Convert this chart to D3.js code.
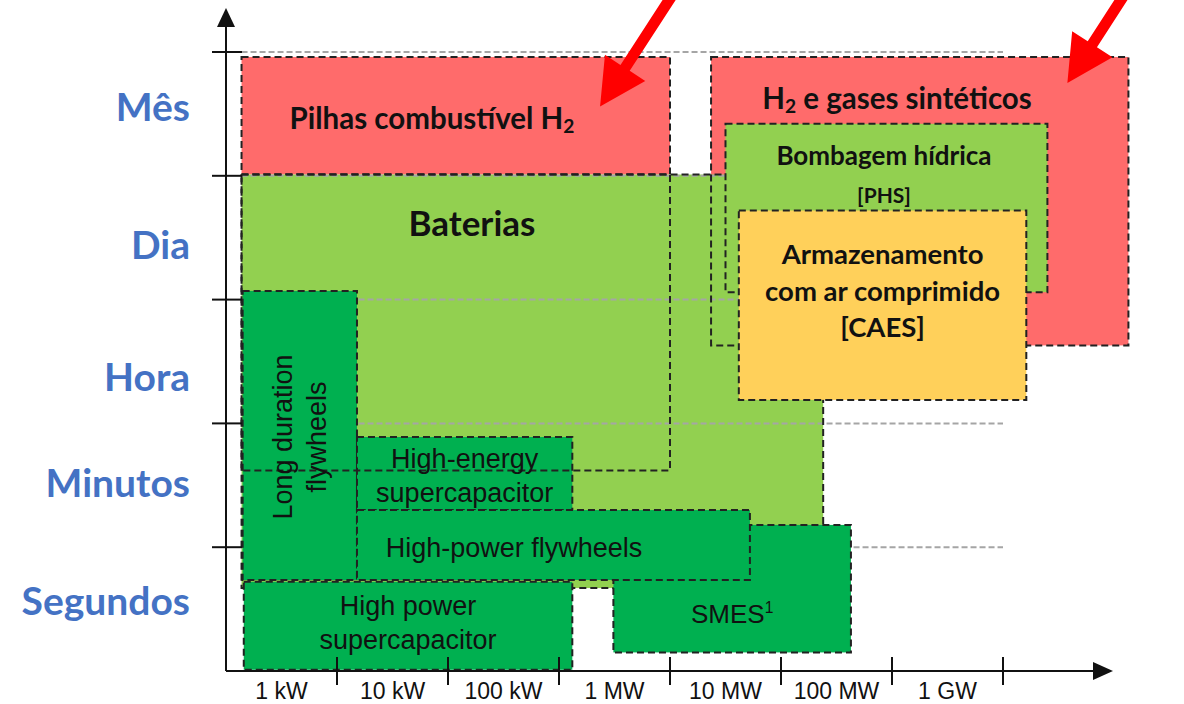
<!doctype html>
<html lang="pt">
<head>
  <meta charset="UTF-8">
  <title>Armazenamento de energia</title>
  <script src="https://cdn.jsdelivr.net/npm/d3@7"></script>
  <style>
    body { margin: 0; background: #fff; }
    .pt { font-family: Lato, "Noto Sans", sans-serif; font-weight: 700; }
    .en { font-family: "Liberation Sans", Arial, sans-serif; }
  </style>
</head>
<body>
<svg id="chart" width="1184" height="704"></svg>
<script>
  // potencia (decadas) e duracao (niveis)
  var powerLabels = ["1 kW", "10 kW", "100 kW", "1 MW", "10 MW", "100 MW", "1 GW"];
  var timeLabels  = ["Segundos", "Minutos", "Hora", "Dia", "Mês"];
  var timeLabelAt = [0.57, 1.53, 2.38, 3.45, 4.56];

  // caixas: [x0, x1, y0, y1] em decadas de potencia / niveis de duracao
  var h2Gases    = [4.37, 8.13, 2.63, 4.96];
  var pilhas     = [0.14, 4.00, 4.01, 4.96];
  var baterias   = [0.14, 5.38, 0.67, 4.01];
  var bateriasB  = [0.14, 4.00, 1.62, 4.01];
  var phs        = [4.50, 7.40, 3.06, 4.42];
  var caes       = [4.62, 7.21, 2.19, 3.72];
  var longFly    = [0.15, 1.18, 0.735, 3.07];
  var hiEnergySC = [1.18, 3.12, 1.30, 1.89];
  var hiPowerFly = [1.18, 4.72, 0.735, 1.30];
  var hiPowerSC  = [0.16, 3.12, 0.01, 0.72];
  var smes       = [3.49, 5.63, 0.15, 1.18];

  var arrows = [
    {from: [4.05, 5.5], to: [3.37, 4.56]},
    {from: [8.12, 5.5], to: [7.58, 4.75]}
  ];

  var svg = d3.select("#chart");
  var x = d3.scaleLinear().domain([0, 7]).range([226, 1003]);
  var y = d3.scaleLinear().domain([0, 5]).range([671, 52]);

  var RED = "#ff6b6b", LGREEN = "#92d050", DGREEN = "#00b050", YELLOW = "#ffd05a";

  function fill(b, color) {
    svg.append("rect")
      .attr("x", x(b[0])).attr("y", y(b[3]))
      .attr("width", x(b[1]) - x(b[0])).attr("height", y(b[2]) - y(b[3]))
      .attr("fill", color);
  }
  function outline(b) {
    svg.append("rect")
      .attr("x", x(b[0])).attr("y", y(b[3]))
      .attr("width", x(b[1]) - x(b[0])).attr("height", y(b[2]) - y(b[3]))
      .attr("fill", "none").attr("stroke", "#222")
      .attr("stroke-width", 2).attr("stroke-dasharray", "7,4");
  }
  function box(b, color) { fill(b, color); outline(b); }

  fill(h2Gases, RED);
  box(pilhas, RED);
  fill(baterias, LGREEN);

  // linhas de grelha
  svg.append("g").selectAll("line").data(d3.range(1, 6)).join("line")
    .attr("x1", x(0.14)).attr("x2", x(7))
    .attr("y1", d => y(d)).attr("y2", d => y(d))
    .attr("stroke", "#a5a5a5").attr("stroke-width", 2).attr("stroke-dasharray", "6,3");

  outline(baterias);
  outline(h2Gases);
  box(phs, LGREEN);
  box(caes, YELLOW);
  box(longFly, DGREEN);
  box(hiEnergySC, DGREEN);
  box(smes, DGREEN);
  box(hiPowerFly, DGREEN);
  box(hiPowerSC, DGREEN);
  outline(bateriasB);

  // eixos
  var ax = svg.append("g").attr("stroke", "#111").attr("stroke-width", 2);
  ax.append("line").attr("x1", x(0)).attr("x2", x(0)).attr("y1", y(0)).attr("y2", 24);
  ax.append("line").attr("x1", x(0)).attr("x2", 1095).attr("y1", y(0)).attr("y2", y(0));
  svg.append("path").attr("d", "M" + x(0) + ",8l-9,19h18z").attr("fill", "#111");
  svg.append("path").attr("d", "M1113," + y(0) + "l-20,-9v18z").attr("fill", "#111");

  ax.selectAll(".yt").data(d3.range(1, 6)).join("line")
    .attr("x1", x(0) - 14).attr("x2", x(0) + 16)
    .attr("y1", d => y(d)).attr("y2", d => y(d));
  ax.selectAll(".xt").data(d3.range(1, 8)).join("line")
    .attr("x1", d => x(d)).attr("x2", d => x(d))
    .attr("y1", y(0) - 14).attr("y2", y(0) + 14);

  svg.append("g").selectAll("text").data(powerLabels).join("text")
    .attr("class", "en")
    .attr("x", (d, i) => x(i + 0.5)).attr("y", 691)
    .attr("text-anchor", "middle").attr("dominant-baseline", "central")
    .attr("font-size", 23).attr("fill", "#111")
    .text(d => d);

  svg.append("g").selectAll("text").data(timeLabels).join("text")
    .attr("class", "pt")
    .attr("x", 190).attr("y", (d, i) => y(timeLabelAt[i]))
    .attr("text-anchor", "end").attr("dominant-baseline", "central")
    .attr("font-size", 39).attr("fill", "#4472c4")
    .text(d => d);

  // textos das caixas
  function label(b, lines, size, cls, dy, gap) {
    var cx = (x(b[0]) + x(b[1])) / 2;
    var cy = (y(b[2]) + y(b[3])) / 2 + (dy || 0);
    var t = svg.append("text").attr("class", cls).attr("font-size", size)
      .attr("text-anchor", "middle").attr("fill", "#111");
    lines.forEach(function(l, i) {
      t.append("tspan").attr("x", cx)
        .attr("y", cy + (i - (lines.length - 1) / 2) * gap)
        .attr("dominant-baseline", "central").text(l);
    });
    return t;
  }

  // "H2" com indice
  function h2(t, before, after, size) {
    t.append("tspan").text(before + "H");
    t.append("tspan").attr("dy", size * 0.28).attr("font-size", size * 0.65).text("2");
    if (after) t.append("tspan").attr("dy", -size * 0.28).text(after);
  }
  var pt = svg.append("text").attr("class", "pt").attr("font-size", 29.5)
    .attr("text-anchor", "middle").attr("fill", "#111")
    .attr("x", 432).attr("y", 117).attr("dominant-baseline", "central");
  h2(pt, "Pilhas combustível ", "", 29.5);
  var h2t = svg.append("text").attr("class", "pt").attr("font-size", 29.5)
    .attr("text-anchor", "middle").attr("fill", "#111")
    .attr("x", 897).attr("y", 97).attr("dominant-baseline", "central");
  h2(h2t, "", " e gases sintéticos", 29.5);

  label(phs, ["Bombagem hídrica"], 26, "pt", 0, 0).selectAll("tspan").attr("y", 155).attr("x", 884);
  label(phs, ["[PHS]"], 21, "pt", 0, 0).selectAll("tspan").attr("y", 194).attr("x", 884);
  label(baterias, ["Baterias"], 35, "pt", 0, 0).selectAll("tspan").attr("x", 472).attr("y", 222);
  label(caes, ["Armazenamento", "com ar comprimido", "[CAES]"], 27.5, "pt", -15, 36.5);

  label(hiEnergySC, ["High-energy", "supercapacitor"], 27, "en", 2, 34);
  label(hiPowerFly, ["High-power flywheels"], 27, "en", 3, 0).selectAll("tspan").attr("x", 514);
  label(hiPowerSC, ["High power", "supercapacitor"], 27, "en", -3, 34);
  var sm = label(smes, ["SMES"], 26, "en", 25, 0);
  sm.select("tspan").append("tspan").attr("baseline-shift", "40%")
    .attr("font-size", "60%").text("1");

  var lcx = (x(longFly[0]) + x(longFly[1])) / 2, lcy = 437;
  var lt = svg.append("text").attr("class", "en").attr("font-size", 27)
    .attr("text-anchor", "middle").attr("fill", "#111")
    .attr("transform", "translate(" + lcx + "," + lcy + ") rotate(-90)");
  ["Long duration", "flywheels"].forEach(function(l, i) {
    lt.append("tspan").attr("x", 0).attr("y", (i - 0.5) * 34)
      .attr("dominant-baseline", "central").text(l);
  });

  // setas vermelhas
  arrows.forEach(function(a) {
    var x0 = x(a.from[0]), y0 = y(a.from[1]), x1 = x(a.to[0]), y1 = y(a.to[1]);
    var dx = x1 - x0, dy = y1 - y0, L = Math.hypot(dx, dy);
    var ux = dx / L, uy = dy / L, px = -uy, py = ux;
    var hl = 46, hw = 24, sw = 5.5;
    var bx = x1 - ux * hl, by = y1 - uy * hl;
    var pts = [
      [x0 + px * sw, y0 + py * sw], [bx + px * sw, by + py * sw],
      [bx + px * hw, by + py * hw], [x1, y1],
      [bx - px * hw, by - py * hw], [bx - px * sw, by - py * sw],
      [x0 - px * sw, y0 - py * sw]
    ];
    svg.append("path").attr("d", "M" + pts.join("L") + "Z").attr("fill", "#ff0000");
  });
</script>
</body>
</html>
